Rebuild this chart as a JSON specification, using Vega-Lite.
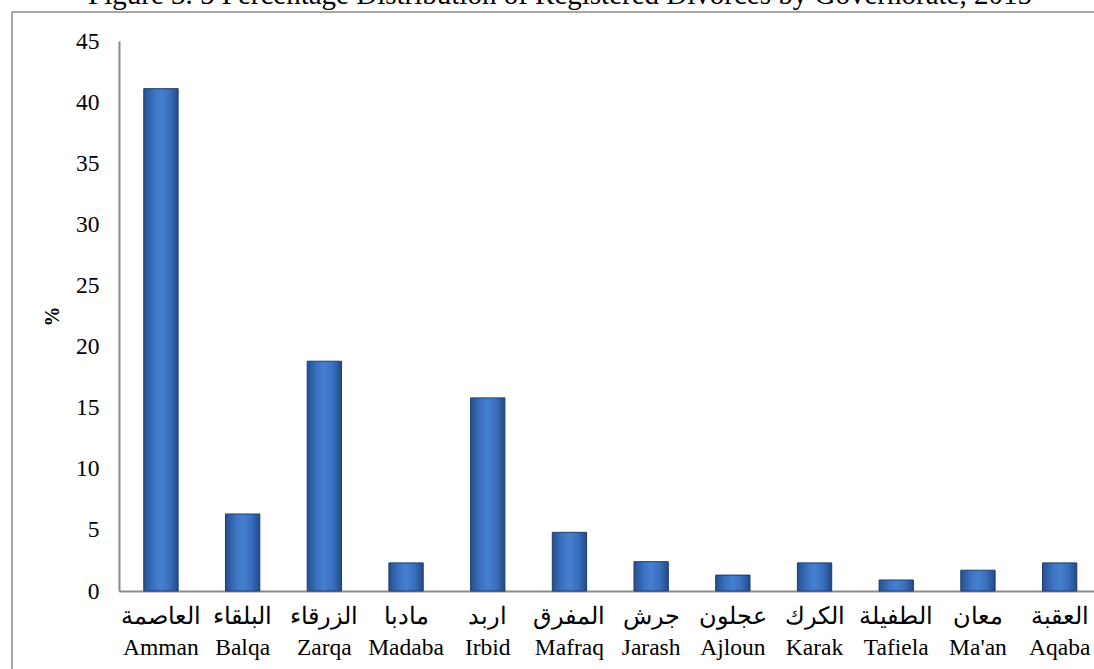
{
  "$schema": "https://vega.github.io/schema/vega-lite/v6.json",
  "autosize": {"type": "none"},
  "padding": {"left": 12, "top": 12, "right": -6, "bottom": -6},
  "width": 1088,
  "height": 663,
  "background": "white",
  "title": {
    "text": "Figure 3. 5 Percentage Distribution of Registered Divorces by Governorate, 2015",
    "font": "Liberation Serif",
    "fontSize": 29,
    "fontWeight": "normal",
    "color": "black",
    "anchor": "middle",
    "frame": "group",
    "baseline": "alphabetic",
    "offset": 0,
    "dy": 21,
    "dx": 4
  },
  "data": {
    "values": [
      {"label": "العاصمة|Amman", "value": 41.1},
      {"label": "البلقاء|Balqa", "value": 6.3},
      {"label": "الزرقاء|Zarqa", "value": 18.8},
      {"label": "مادبا|Madaba", "value": 2.3},
      {"label": "اربد|Irbid", "value": 15.8},
      {"label": "المفرق|Mafraq", "value": 4.8},
      {"label": "جرش|Jarash", "value": 2.4},
      {"label": "عجلون|Ajloun", "value": 1.3},
      {"label": "الكرك|Karak", "value": 2.3},
      {"label": "الطفيلة|Tafiela", "value": 0.9},
      {"label": "معان|Ma'an", "value": 1.7},
      {"label": "العقبة|Aqaba", "value": 2.3}
    ]
  },
  "mark": {
    "type": "bar",
    "stroke": "#1a3c6e",
    "strokeWidth": 1,
    "color": {
      "gradient": "linear",
      "x1": 0, "x2": 1, "y1": 0, "y2": 0,
      "stops": [
        {"offset": 0, "color": "#27508f"},
        {"offset": 0.3, "color": "#3c73c2"},
        {"offset": 0.5, "color": "#4580cf"},
        {"offset": 0.75, "color": "#3a6fbd"},
        {"offset": 1, "color": "#234a87"}
      ]
    }
  },
  "encoding": {
    "x": {
      "field": "label",
      "type": "nominal",
      "sort": null,
      "scale": {"range": [107, 1089.6], "paddingInner": 0.58, "paddingOuter": 0.3035},
      "axis": {
        "title": null,
        "orient": "bottom",
        "offset": -84,
        "labelExpr": "split(datum.label, '|')",
        "labelAngle": 0,
        "labelLimit": 0,
        "labelFont": "Liberation Serif",
        "labelFontSize": 23.5,
        "labelLineHeight": 31,
        "labelBaseline": "top",
        "labelPadding": 13,
        "labelColor": "black",
        "labelOverlap": false,
        "ticks": false,
        "domainColor": "#8a8a8a",
        "domainWidth": 2
      }
    },
    "y": {
      "field": "value",
      "type": "quantitative",
      "scale": {"domain": [0, 45], "range": [579, 29], "nice": false},
      "axis": {
        "title": "%",
        "offset": -107,
        "values": [0, 5, 10, 15, 20, 25, 30, 35, 40, 45],
        "grid": false,
        "ticks": false,
        "labelFont": "Liberation Serif",
        "labelFontSize": 23.5,
        "labelColor": "black",
        "labelPadding": 20,
        "titleFont": "Liberation Serif",
        "titleFontSize": 20,
        "titleFontWeight": "bold",
        "titleColor": "black",
        "titlePadding": 13,
        "domainColor": "#8a8a8a",
        "domainWidth": 2
      }
    }
  },
  "config": {
    "view": {"stroke": "#8a8a8a", "strokeWidth": 1.5}
  }
}
